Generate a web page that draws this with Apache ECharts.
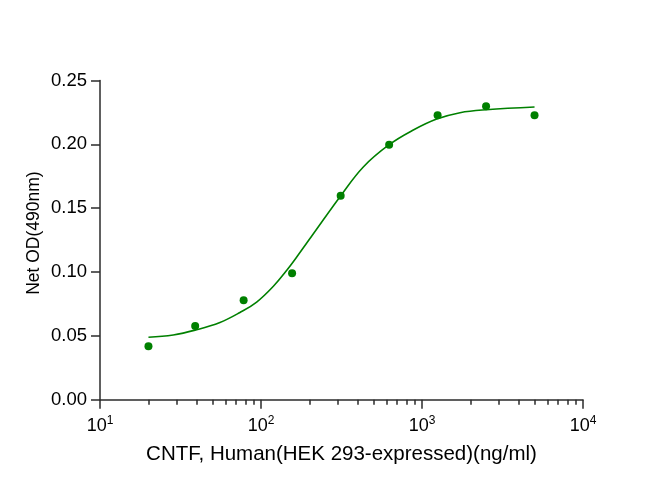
<!DOCTYPE html>
<html><head><meta charset="utf-8">
<script src="https://cdn.jsdelivr.net/npm/echarts@6/dist/echarts.min.js"></script>
<style>html,body{margin:0;padding:0;background:#fff}#c{width:650px;height:490px}</style>
</head><body><div id="c"></div>
<script>
const concentrations = [20, 39, 78, 156, 312.5, 625, 1250, 2500, 5000];
const netOD = [0.0418, 0.0577, 0.0779, 0.099, 0.1598, 0.1997, 0.2227, 0.2298, 0.2227];
const fitX = [20, 28.5, 39, 55.6, 74, 94, 119, 145, 171, 211, 313, 432, 625, 883, 1234, 1722, 2500, 5000];
const fitY = [0.0489, 0.0507, 0.0545, 0.0605, 0.0683, 0.0765, 0.0887, 0.1016, 0.1137, 0.1298, 0.1598, 0.1823, 0.1997, 0.2112, 0.2198, 0.2248, 0.2271, 0.2292];
const xMajorTicks = [10, 100, 1000, 10000];
const xTickExponents = ['1', '2', '3', '4'];
const yTickLabels = ['0.00', '0.05', '0.10', '0.15', '0.20', '0.25'];
const xTitle = 'CNTF, Human(HEK 293-expressed)(ng/ml)';
const yTitle = 'Net OD(490nm)';

const minorLog = [];
for (let d = 1; d < 4; d++) for (let k = 2; k <= 9; k++) minorLog.push(d + Math.log10(k));

const axisColor = '#2b2b2b';
const font = 'Liberation Sans, Arial, sans-serif';
const chart = echarts.init(document.getElementById('c'));
chart.setOption({
  animation: false,
  backgroundColor: '#fff',
  grid: {left: 100, right: 67, top: 80.5, bottom: 90.3},
  xAxis: [{
    type: 'log', logBase: 10, min: 10, max: 10000,
    axisLine: {show: true, lineStyle: {color: axisColor, width: 1.5}},
    axisTick: {show: true, length: 9, inside: false, lineStyle: {color: axisColor, width: 1.5},
      customValues: xMajorTicks},
    splitLine: {show: false},
    axisLabel: {
      margin: 15, customValues: xMajorTicks,
      formatter: function (v) {
        const i = xMajorTicks.indexOf(Math.round(v));
        return '{b|10}{s|' + (i >= 0 ? xTickExponents[i] : '') + '}';
      },
      rich: {
        b: {fontSize: 18, fontFamily: font, color: '#000', lineHeight: 22},
        s: {fontSize: 12, fontFamily: font, color: '#000', lineHeight: 14, verticalAlign: 'top'}
      }
    },
    name: xTitle, nameLocation: 'middle', nameGap: 44,
    nameTextStyle: {fontSize: 20.5, fontFamily: font, color: '#000'}
  }, {
    type: 'value', min: 1, max: 4, position: 'bottom',
    axisLine: {show: false},
    axisTick: {show: true, length: 5, lineStyle: {color: axisColor, width: 1.5}, customValues: minorLog},
    axisLabel: {show: false},
    splitLine: {show: false}
  }],
  yAxis: {
    type: 'value', min: 0, max: 0.25, interval: 0.05,
    axisLine: {show: true, lineStyle: {color: axisColor, width: 1.5}},
    axisTick: {show: true, length: 9, lineStyle: {color: axisColor, width: 1.5}},
    splitLine: {show: false},
    axisLabel: {margin: 13, fontSize: 18.5, fontFamily: font, color: '#000',
      formatter: function (v) { return yTickLabels[Math.round(v / 0.05)]; }},
    name: yTitle, nameLocation: 'middle', nameGap: 57, nameMoveOverlap: false,
    nameTextStyle: {fontSize: 17.5, fontFamily: font, color: '#000', padding: [0, 0, 0, 14]}
  },
  series: [{
    type: 'line', xAxisIndex: 0,
    data: fitX.map((x, i) => [x, fitY[i]]),
    smooth: 0.4, showSymbol: false, symbol: 'none',
    lineStyle: {color: '#008000', width: 1.6}, z: 2
  }, {
    type: 'scatter', xAxisIndex: 0,
    data: concentrations.map((x, i) => [x, netOD[i]]),
    symbol: 'circle', symbolSize: 8,
    itemStyle: {color: '#008000', opacity: 1}, z: 3
  }]
});
</script></body></html>
